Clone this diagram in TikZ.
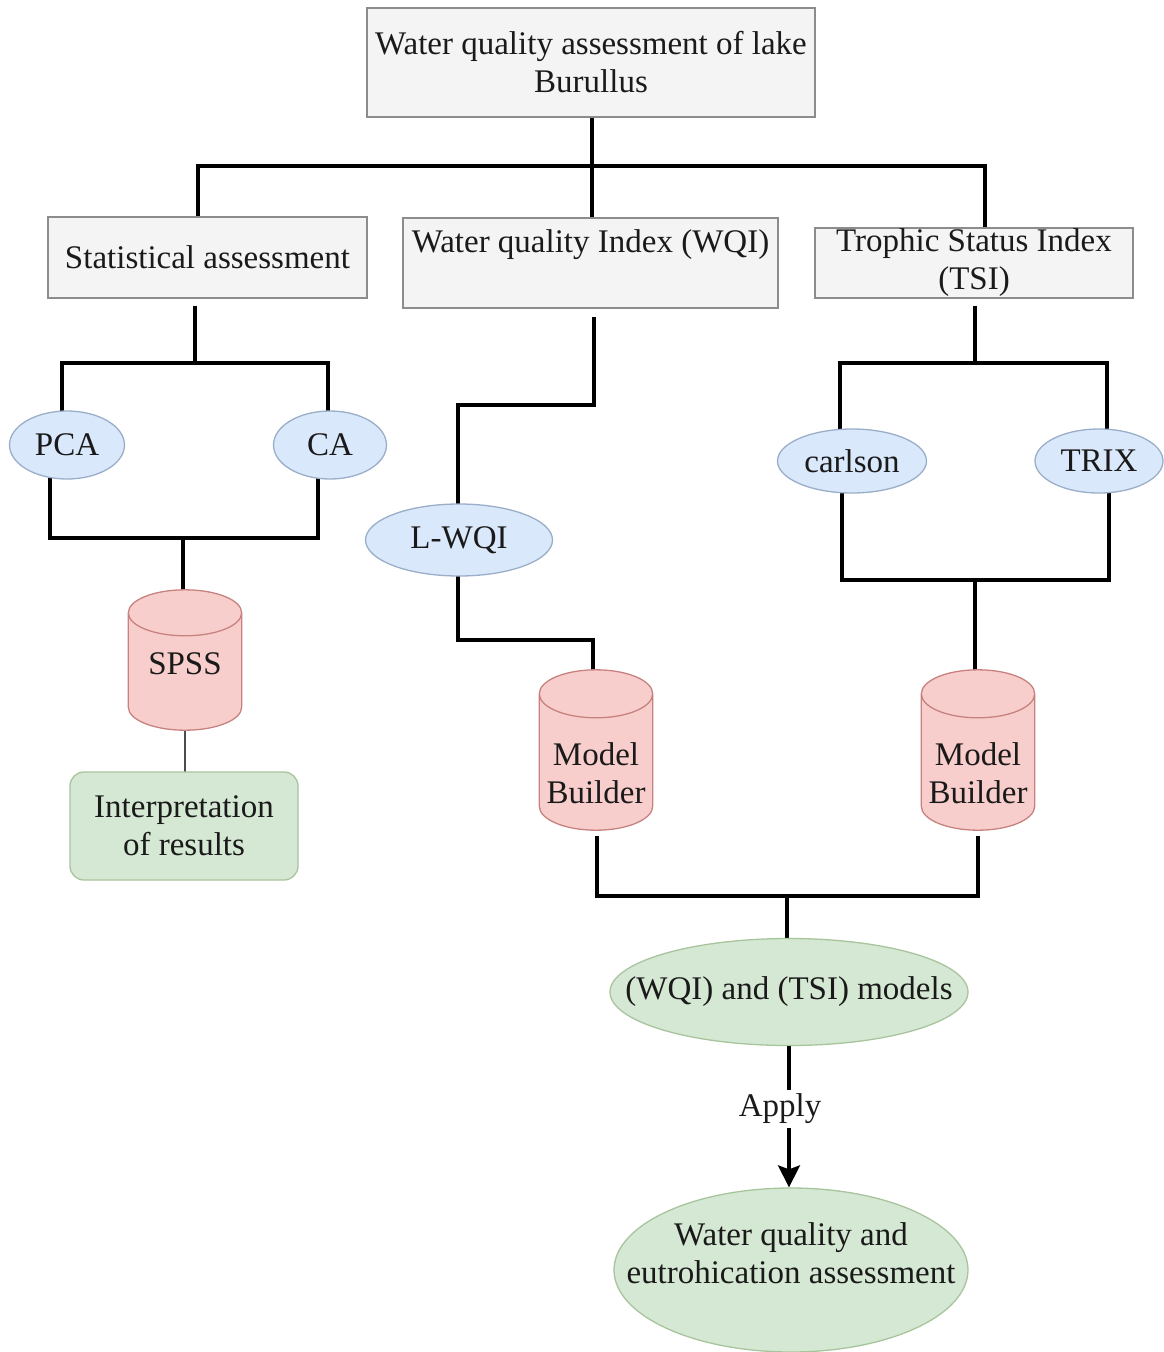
\documentclass[tikz,border=0pt]{standalone}
\usepackage{fontspec}
\setmainfont{Liberation Serif}
\usetikzlibrary{shapes.geometric,arrows.meta,backgrounds}
\definecolor{gfill}{HTML}{F4F4F4}
\definecolor{gdraw}{HTML}{8C8C8C}
\definecolor{bfill}{HTML}{DAE8FC}
\definecolor{bdraw}{HTML}{9AAEC8}
\definecolor{rfill}{HTML}{F8CECC}
\definecolor{rdraw}{HTML}{C7827F}
\definecolor{nfill}{HTML}{D5E8D4}
\definecolor{ndraw}{HTML}{A8C49C}
\definecolor{txt}{HTML}{1A1A1A}
% cylinder outline drawn on a named (invisible) rectangle node: #1 name, #2 end radius y
\newcommand{\drawcyl}[2]{%
  \path let \p1=(#1.north west), \p2=(#1.south east), \n1={(\x2-\x1)/2} in
    [fill=rfill, draw=rdraw, line width=1.3pt]
    ([yshift=-#2]#1.north west) -- ([yshift=#2]#1.south west)
    arc[start angle=180, end angle=360, x radius=\n1, y radius=#2]
    -- ([yshift=-#2]#1.north east)
    arc[start angle=0, end angle=180, x radius=\n1, y radius=#2] -- cycle
    ([yshift=-#2]#1.north west)
    arc[start angle=180, end angle=360, x radius=\n1, y radius=#2];
}
\usetikzlibrary{calc}
\begin{document}
\begin{tikzpicture}[x=1pt,y=-1pt,
  font=\fontsize{33}{38}\selectfont, text=txt,
  graybox/.style={rectangle, draw=gdraw, fill=gfill, line width=1.3pt, inner sep=0pt, align=center},
  blueell/.style={ellipse, draw=bdraw, fill=bfill, line width=1.3pt, inner sep=0pt},
  cylbox/.style={rectangle, draw=none, inner sep=0pt, minimum width=113pt},
  greenbox/.style={rectangle, rounded corners=14pt, draw=ndraw, fill=nfill, line width=1.3pt, inner sep=0pt, align=center},
  greenell/.style={ellipse, draw=ndraw, fill=nfill, line width=1.3pt, inner sep=0pt},
  lbl/.style={align=center, inner sep=0pt, text=txt},
  conn/.style={draw=black, line width=3.4pt},
  thinconn/.style={draw=black!70, line width=2.2pt}
]
\useasboundingbox (0,0) rectangle (1164,1352);

% top level
\node[graybox, minimum width=448pt, minimum height=109pt] (top) at (591,62.5) {Water quality assessment of lake\\Burullus};
\node[graybox, minimum width=319pt, minimum height=81pt] (stat) at (207.5,257.5) {Statistical assessment};
\node[graybox, minimum width=375pt, minimum height=90pt,
      label={[lbl,yshift=18pt]center:Water quality Index (WQI)}] (wqi) at (590.5,263) {};
\node[graybox, minimum width=318pt, minimum height=70pt] (tsi) at (974,263) {Trophic Status Index\\(TSI)};

% ellipses
\node[blueell, minimum width=115pt, minimum height=68pt] (pca) at (67,445) {PCA};
\node[blueell, minimum width=113pt, minimum height=68pt] (ca) at (330,445) {CA};
\node[blueell, minimum width=187pt, minimum height=72pt] (lwqi) at (459,540) {L-WQI};
\node[blueell, minimum width=149pt, minimum height=64pt] (carlson) at (852,461) {carlson};
\node[blueell, minimum width=128pt, minimum height=64pt] (trix) at (1099,461) {TRIX};

% cylinders (shape drawn on background layer below)
\node[cylbox, minimum height=140pt, label={[lbl,yshift=-4pt]center:SPSS}] (spss) at (185,660) {};
\node[cylbox, minimum height=160pt, label={[lbl,yshift=-23pt]center:{Model\\Builder}}] (mb1) at (596,750) {};
\node[cylbox, minimum height=160pt, label={[lbl,yshift=-23pt]center:{Model\\Builder}}] (mb2) at (978,750) {};

% green
\node[greenbox, minimum width=228pt, minimum height=108pt] (interp) at (184,826) {Interpretation\\of results};
\node[greenell, minimum width=358pt, minimum height=107pt,
      label={[lbl]center:(WQI) and (TSI) models}] (models) at (789,992) {};
\node[lbl, inner sep=4pt] (apply) at (780,1109) {Apply};
\node[greenell, minimum width=354pt, minimum height=164pt,
      label={[lbl,yshift=17pt]center:{Water quality and\\eutrohication assessment}}] (final) at (791,1270) {};

% junction coordinates
\coordinate (j0) at (592,166);
\coordinate (jl) at (198,166);
\coordinate (jr) at (985,166);
\coordinate (s1) at (195,363);
\coordinate (sa) at (62,363);
\coordinate (sb) at (328,363);
\coordinate (sc) at (50,538);
\coordinate (sd) at (318,538);
\coordinate (se) at (183,538);
\coordinate (w1) at (594,405);
\coordinate (w2) at (458,405);
\coordinate (w3) at (458,640);
\coordinate (w4) at (593,640);
\coordinate (m1) at (597,896);
\coordinate (m2) at (978,896);
\coordinate (m3) at (787,896);
\coordinate (t1) at (975,363);
\coordinate (t2) at (840,363);
\coordinate (t3) at (1107,363);
\coordinate (t4) at (842,580);
\coordinate (t5) at (1109,580);
\coordinate (t6) at (975,580);
\coordinate (ax) at (789,1000);

\begin{scope}[on background layer]
\draw[conn] (j0 |- top.center) -- (j0 |- wqi.north);
\draw[conn] (jl |- stat.north) -- (jl) -- (jr) -- (jr |- tsi.north);
% statistical branch
\draw[conn] ([yshift=-7pt]s1 |- stat.south) -- (s1);
\draw[conn] (sa |- pca.center) -- (sa) -- (sb) -- (sb |- ca.center);
\draw[conn] (sc |- pca.center) -- (sc) -- (sd) -- (sd |- ca.center);
\draw[conn] (se) -- (se |- spss.center);
\draw[thinconn] (spss.center) -- (spss.center |- interp.center);
% WQI branch
\draw[conn] ([yshift=-8pt]w1 |- wqi.south) -- (w1) -- (w2) -- (w2 |- lwqi.center);
\draw[conn] (w3 |- lwqi.center) -- (w3) -- (w4) -- (w4 |- mb1.center);
% TSI branch
\draw[conn] ([yshift=-7pt]t1 |- tsi.south) -- (t1);
\draw[conn] (t2 |- carlson.center) -- (t2) -- (t3) -- (t3 |- trix.center);
\draw[conn] (t4 |- carlson.center) -- (t4) -- (t5) -- (t5 |- trix.center);
\draw[conn] (t6) -- (t6 |- mb2.center);
% merge
\draw[conn] ([yshift=-6pt]m1 |- mb1.south) -- (m1) -- (m2) -- ([yshift=-6pt]m2 |- mb2.south);
\draw[conn] (m3) -- (m3 |- models.center);
% cylinder shapes
\drawcyl{spss}{23pt}
\drawcyl{mb1}{24pt}
\drawcyl{mb2}{24pt}
\end{scope}
\draw[conn] (ax |- models.south) -- (ax |- apply.north);
\draw[conn, -{Stealth[length=22pt,width=22pt,inset=4pt]}] (ax |- apply.south) -- (ax |- final.north);
\end{tikzpicture}
\end{document}
